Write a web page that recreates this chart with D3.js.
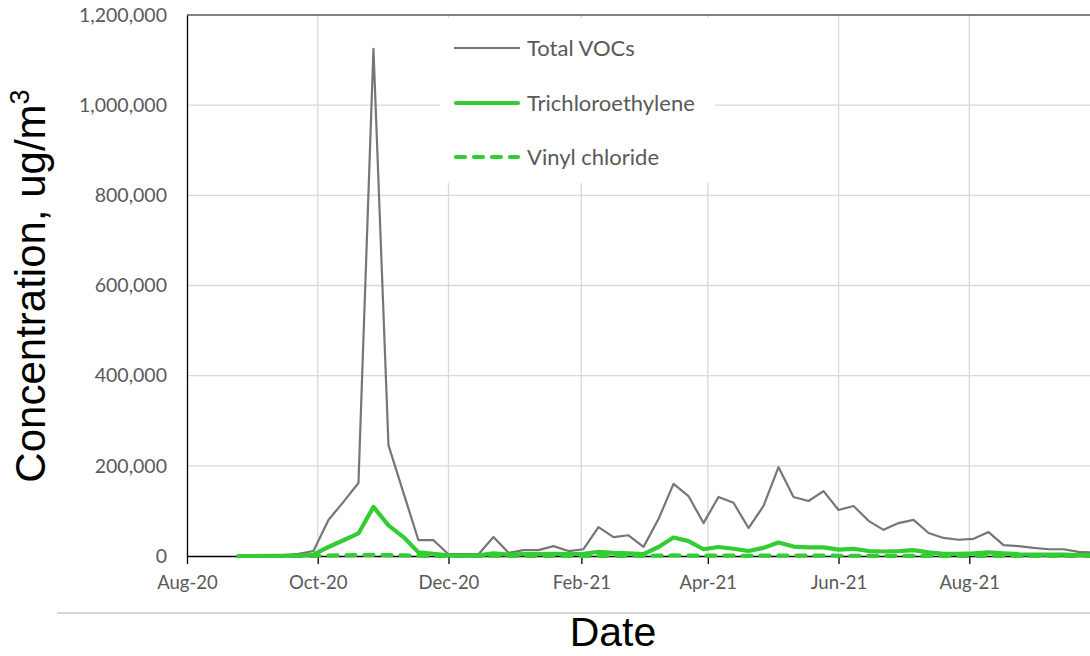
<!DOCTYPE html>
<html>
<head>
<meta charset="utf-8">
<script src="https://cdn.jsdelivr.net/npm/d3@7"></script>
<style>
  body { margin: 0; background: #fff; }
  svg { display: block; }
</style>
</head>
<body>
<div id="chart"></div>
<script>
const dates = [
  "2020-08-25", "2020-09-01", "2020-09-08", "2020-09-15", "2020-09-22", "2020-09-29",
  "2020-10-06", "2020-10-13", "2020-10-20", "2020-10-27", "2020-11-03", "2020-11-10",
  "2020-11-17", "2020-11-24", "2020-12-01", "2020-12-08", "2020-12-15", "2020-12-22",
  "2020-12-29", "2021-01-05", "2021-01-12", "2021-01-19", "2021-01-26", "2021-02-02",
  "2021-02-09", "2021-02-16", "2021-02-23", "2021-03-02", "2021-03-09", "2021-03-16",
  "2021-03-23", "2021-03-30", "2021-04-06", "2021-04-13", "2021-04-20", "2021-04-27",
  "2021-05-04", "2021-05-11", "2021-05-18", "2021-05-25", "2021-06-01", "2021-06-08",
  "2021-06-15", "2021-06-22", "2021-06-29", "2021-07-06", "2021-07-13", "2021-07-20",
  "2021-07-27", "2021-08-03", "2021-08-10", "2021-08-17", "2021-08-24", "2021-08-31",
  "2021-09-07", "2021-09-14", "2021-09-21", "2021-09-28"
];

const totalVOCs = [
  0, 0, 500, 2000, 5000, 11000,
  80000, 120000, 162000, 1125000, 246000, 140000,
  35000, 35000, 4000, 4000, 4000, 42000,
  7000, 13000, 13000, 22000, 11000, 15000,
  64000, 42000, 46000, 20000, 82000, 160000,
  133000, 73000, 131000, 118000, 62000, 111000,
  197000, 131000, 122000, 144000, 102000, 111000,
  78000, 58000, 73000, 80000, 51000, 40000,
  36000, 38000, 53000, 24000, 22000, 18000,
  15000, 15000, 9000, 8000
];

const trichloroethylene = [
  0, 0, 200, 500, 1000, 3000,
  20000, 35000, 50000, 109000, 68000, 42000,
  8000, 5000, 1500, 1000, 1500, 6000,
  3000, 4000, 4000, 5000, 4000, 5000,
  9000, 7000, 6000, 4000, 20000, 41000,
  33000, 15000, 20000, 16000, 11000, 18000,
  30000, 21000, 19000, 19000, 14000, 16000,
  11000, 10000, 11000, 13000, 8000, 5000,
  5000, 6000, 8000, 6000, 4000, 3000,
  3000, 3000, 2000, 2000
];

const vinylChloride = [
  0, 0, 0, 0, 0, 200,
  1000, 1500, 2000, 2500, 2000, 1500,
  500, 300, 200, 200, 200, 500,
  300, 300, 300, 400, 300, 300,
  500, 400, 400, 300, 800, 1200,
  1000, 600, 800, 700, 500, 700,
  1000, 800, 700, 700, 600, 600,
  500, 400, 500, 500, 400, 300,
  300, 300, 400, 300, 300, 200,
  200, 200, 200, 200
];

const yTicks = [0, 200000, 400000, 600000, 800000, 1000000, 1200000];
const xTicks = ["2020-08-01", "2020-10-01", "2020-12-01", "2021-02-01", "2021-04-01", "2021-06-01", "2021-08-01"];
const xEnd = "2021-10-01";

const seriesNames = ["Total VOCs", "Trichloroethylene", "Vinyl chloride"];

const width = 1090,
    height = 656;
const margin = { top: 15, left: 187, bottom: 100 };
const plotRight = 1100;

const green = "#33cc33",
    grey = "#767676",
    labelColor = "#595959";

const parse = d3.timeParse("%Y-%m-%d");
const fmtDate = d3.timeFormat("%b-%y");

const svg = d3.select("#chart")
  .append("svg")
  .attr("width", width)
  .attr("height", height);

const x = d3.scaleTime()
  .domain([parse(xTicks[0]), parse(xEnd)])
  .range([margin.left, plotRight]);

const y = d3.scaleLinear()
  .domain([0, 1200000])
  .range([height - margin.bottom, margin.top]);

// gridlines
svg.append("g")
  .selectAll("line")
  .data(yTicks.slice(1, -1))
  .join("line")
  .attr("x1", margin.left)
  .attr("x2", plotRight)
  .attr("y1", d => y(d))
  .attr("y2", d => y(d))
  .attr("stroke", "#d9d9d9")
  .attr("stroke-width", 1.3);

svg.append("g")
  .selectAll("line")
  .data(xTicks.slice(1))
  .join("line")
  .attr("x1", d => x(parse(d)))
  .attr("x2", d => x(parse(d)))
  .attr("y1", y(1200000))
  .attr("y2", y(0))
  .attr("stroke", "#d9d9d9")
  .attr("stroke-width", 1.3);

// top border
svg.append("line")
  .attr("x1", margin.left)
  .attr("x2", plotRight)
  .attr("y1", y(1200000))
  .attr("y2", y(1200000))
  .attr("stroke", "#595959")
  .attr("stroke-width", 1.5);

// legend box (sits over the gridlines)
const legend = svg.append("g");
legend.append("rect")
  .attr("x", 440)
  .attr("y", 18)
  .attr("width", 275)
  .attr("height", 165)
  .attr("fill", "#fff");

// axes
const xAxis = svg.append("g")
  .attr("transform", `translate(0,${y(0)})`)
  .call(d3.axisBottom(x)
    .tickValues(xTicks.map(parse))
    .tickFormat(fmtDate)
    .tickSizeInner(8)
    .tickSizeOuter(0)
    .tickPadding(12));
xAxis.select(".domain").attr("stroke", "#000").attr("stroke-width", 1.3);
xAxis.selectAll(".tick line").attr("stroke", "#000").attr("stroke-width", 1.3);
xAxis.selectAll(".tick text")
  .attr("fill", labelColor)
  .style("font-family", "Lato, 'Open Sans', sans-serif")
  .style("font-size", "18.5px");

const yAxis = svg.append("g")
  .attr("transform", `translate(${margin.left},0)`)
  .call(d3.axisLeft(y)
    .tickValues(yTicks)
    .tickFormat(d3.format(","))
    .tickSize(0)
    .tickPadding(20));
yAxis.select(".domain").attr("stroke", "#000").attr("stroke-width", 1.3);
yAxis.selectAll(".tick text")
  .attr("fill", labelColor)
  .style("font-family", "Lato, 'Open Sans', sans-serif")
  .style("font-size", "19.5px");

// series
const line = d3.line()
  .x((d, i) => x(parse(dates[i])))
  .y(d => y(d));

svg.append("path")
  .datum(totalVOCs)
  .attr("fill", "none")
  .attr("stroke", grey)
  .attr("stroke-width", 2.2)
  .attr("stroke-linejoin", "round")
  .attr("d", line);

svg.append("path")
  .datum(trichloroethylene)
  .attr("fill", "none")
  .attr("stroke", green)
  .attr("stroke-width", 4.2)
  .attr("stroke-linejoin", "round")
  .attr("stroke-linecap", "round")
  .attr("d", line);

svg.append("path")
  .datum(vinylChloride)
  .attr("fill", "none")
  .attr("stroke", green)
  .attr("stroke-width", 4.2)
  .attr("stroke-dasharray", "9,9")
  .attr("stroke-linecap", "round")
  .attr("d", line);

// legend entries
const legendItems = [
  { name: seriesNames[0], color: grey, w: 2.2, dash: null, cy: 48 },
  { name: seriesNames[1], color: green, w: 4.2, dash: null, cy: 103 },
  { name: seriesNames[2], color: green, w: 4.2, dash: "9,9", cy: 157 }
];

const li = legend.selectAll("g.item")
  .data(legendItems)
  .join("g")
  .attr("class", "item");

li.append("line")
  .attr("x1", d => d.w > 3 ? 456 : 454)
  .attr("x2", d => d.w > 3 ? 518 : 520)
  .attr("y1", d => d.cy)
  .attr("y2", d => d.cy)
  .attr("stroke", d => d.color)
  .attr("stroke-width", d => d.w)
  .attr("stroke-linecap", d => d.w > 3 ? "round" : "butt")
  .attr("stroke-dasharray", d => d.dash);

li.append("text")
  .attr("x", 527)
  .attr("y", d => d.cy + 8)
  .attr("fill", labelColor)
  .style("font-family", "Lato, 'Open Sans', sans-serif")
  .style("font-size", "22px")
  .text(d => d.name);

// titles
svg.append("text")
  .attr("transform", "translate(45,286) rotate(-90)")
  .attr("text-anchor", "middle")
  .attr("fill", "#000")
  .style("font-family", "'Liberation Sans', Arial, sans-serif")
  .style("font-size", "42px")
  .text("Concentration, ug/m")
  .append("tspan")
  .attr("dy", -16)
  .style("font-size", "27px")
  .text("3");

svg.append("text")
  .attr("x", 613)
  .attr("y", 646)
  .attr("text-anchor", "middle")
  .attr("fill", "#000")
  .style("font-family", "'Liberation Sans', Arial, sans-serif")
  .style("font-size", "41px")
  .text("Date");

// chart-area divider below the axis labels
svg.append("line")
  .attr("x1", 57)
  .attr("x2", width)
  .attr("y1", 613)
  .attr("y2", 613)
  .attr("stroke", "#c8c8c8")
  .attr("stroke-width", 1.3);
</script>
</body>
</html>
